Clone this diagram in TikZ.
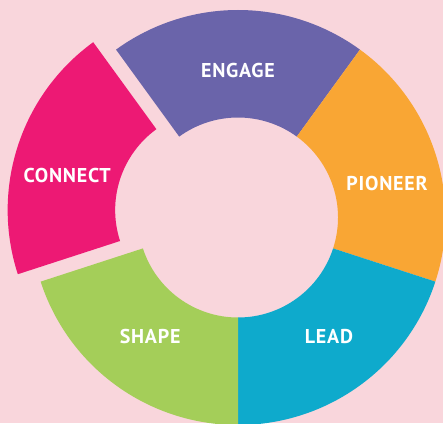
\documentclass[tikz,border=0pt]{standalone}
\usepackage{fontspec}
\setsansfont{PT Sans}[LetterSpace=4]
\usepackage{tikz}

\definecolor{bgpink}{RGB}{249,214,220}
\definecolor{engagecol}{RGB}{106,100,170}
\definecolor{pioneercol}{RGB}{249,166,52}
\definecolor{leadcol}{RGB}{14,170,204}
\definecolor{shapecol}{RGB}{164,206,89}
\definecolor{connectcol}{RGB}{237,25,116}

\tikzset{
  seglabel/.style={text=white, inner sep=0pt, font=\sffamily\bfseries\fontsize{20}{20}\selectfont},
}

\begin{document}
\begin{tikzpicture}[x=1pt, y=1pt]
  \fill [bgpink] (-238,-205.5) rectangle (205,217.5);
  \useasboundingbox (-238,-205.5) rectangle (205,217.5);
  % ring segments, 72 degrees each
  \foreach \a/\b/\c in {54/126/engagecol, -18/54/pioneercol, -90/-18/leadcol, 198/270/shapecol}
    \fill [\c] (\a:207.5pt) arc [start angle=\a, end angle=\b, radius=207.5pt]
      -- (\b:100pt) arc [start angle=\b, end angle=\a, radius=100pt] -- cycle;
  % connect is pulled out of the ring
  \begin{scope}[shift={(162:24pt)}]
    \fill [connectcol] (126:207.5pt) arc [start angle=126, end angle=198, radius=207.5pt]
      -- (198:100pt) arc [start angle=198, end angle=126, radius=100pt] -- cycle;
    \node (connect) [seglabel] at (167:152pt) {CONNECT};
  \end{scope}
  \node (engage) [seglabel] at (90:146.5pt) {ENGAGE};
  \node (pioneer) [seglabel] at (13:153pt) {PIONEER};
  \node (lead) [seglabel] at (-52.7:150pt) {LEAD};
  \node (shape) [seglabel] at (233.6:148pt) {SHAPE};
\end{tikzpicture}
\end{document}
